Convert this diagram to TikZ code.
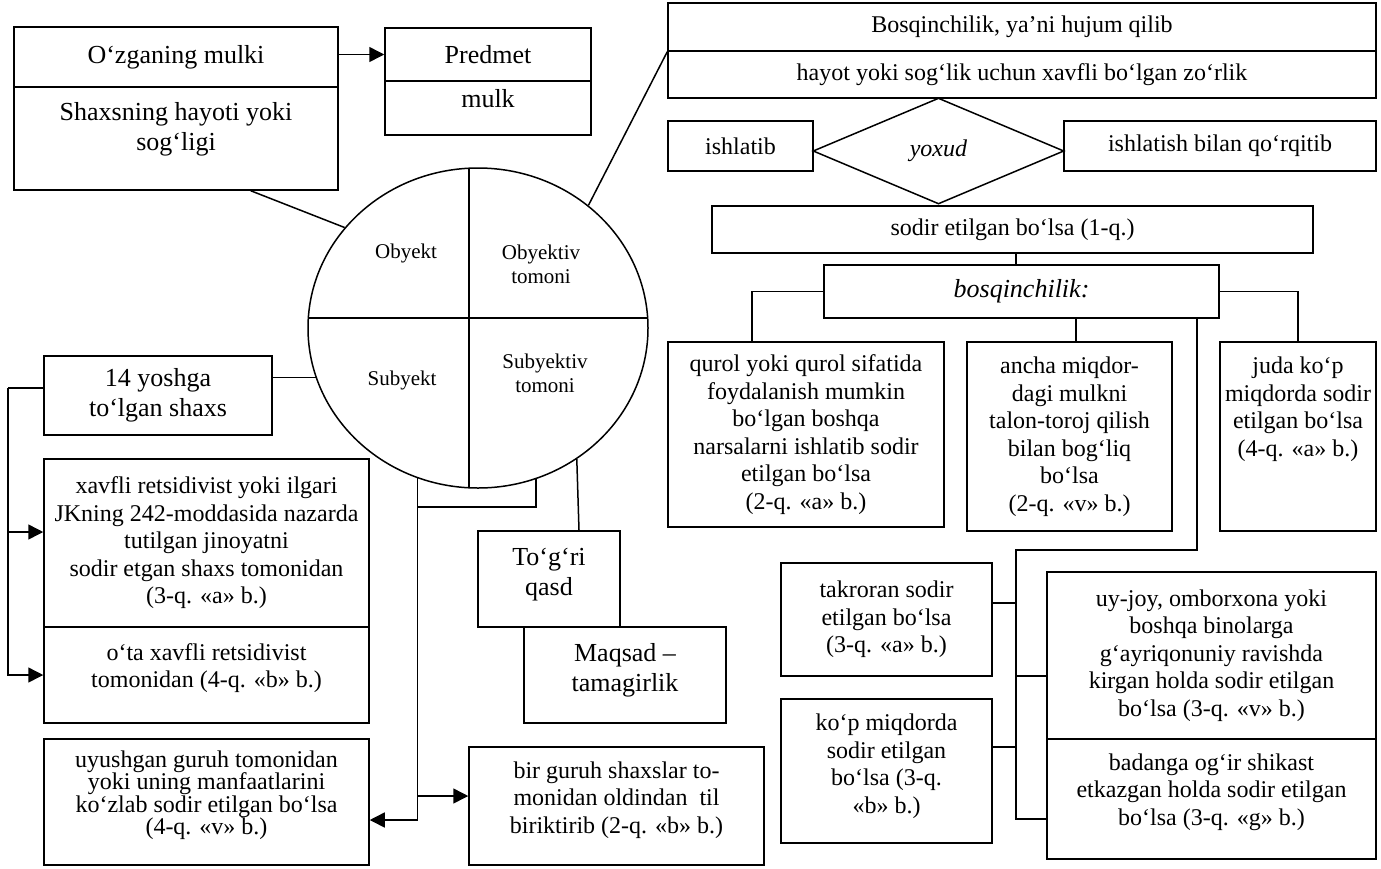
\documentclass[tikz,border=0pt]{standalone}
\usepackage{fontspec}
\setmainfont{Liberation Serif}
\usetikzlibrary{shapes.geometric,arrows.meta}

\newcommand{\fsnorm}{\fontsize{24}{27.5}\selectfont}
\newcommand{\fstight}{\fontsize{24}{22.5}\selectfont}
\newcommand{\fsbig}{\fontsize{26}{30}\selectfont}
\newcommand{\fssmall}{\fontsize{21}{24}\selectfont}

\begin{document}
\begin{tikzpicture}[
    x=1pt, y=-1pt,
    line width=1.5pt,
    box/.style={
        rectangle,
        draw=black,
        align=center,
        inner sep=0pt,
        font=\fsnorm
    },
    bigbox/.style={
        box,
        font=\fsbig
    },
    dim/.style 2 args={
        minimum width=#1pt,
        minimum height=#2pt
    },
    lift/.style={
        text depth=#1
    },
    oval/.style={
        ellipse,
        draw=black,
        inner sep=0pt,
        minimum width=340pt,
        minimum height=320pt,
        path picture={
            \draw ([xshift=-9pt]path picture bounding box.north)
                -- ([xshift=-9pt]path picture bounding box.south);
            \draw ([yshift=10pt]path picture bounding box.west)
                -- ([yshift=10pt]path picture bounding box.east);
        }
    },
    seglabel/.style={
        align=center,
        inner sep=0pt,
        font=\fssmall
    },
    rhomb/.style={
        diamond,
        draw=black,
        inner sep=0pt,
        minimum width=251pt,
        minimum height=106pt,
        font=\fsnorm
    },
    arrow/.style={
        -{Triangle[length=15pt,width=15pt]}
    }
]
\useasboundingbox (0,0) rectangle (1381,868);

% object side
\node[bigbox, dim={324}{60}] (ozgan) at (176,57) {O‘zganing mulki};
\node[bigbox, dim={324}{103}, lift=25pt] (hayoti) at (176,138.5) {Shaxsning hayoti yoki\\sog‘ligi};
\node[bigbox, dim={206}{53}] (predmet) at (488,54.5) {Predmet};
\node[bigbox, dim={206}{54}, lift=20pt] (mulk) at (488,108) {mulk};

% the four elements
\node[oval] (circ) at (478,328) {};
\node[seglabel] (obj)   at (406,253) {Obyekt};
\node[seglabel] (objt)  at (541,264) {Obyektiv\\tomoni};
\node[seglabel] (subj)  at (402,380) {Subyekt};
\node[seglabel] (subjt) at (545,373) {Subyektiv\\tomoni};

% objective side
\node[box, dim={708}{48}] (hujum)  at (1022,27)   {Bosqinchilik, ya’ni hujum qilib};
\node[box, dim={708}{47}] (zorlik) at (1022,74.5) {hayot yoki sog‘lik uchun xavfli bo‘lgan zo‘rlik};
\node[box, dim={145}{50}] (ishlatib) at (740.5,146) {ishlatib};
\node[rhomb] (yoxud) at (938.5,151) {\textit{yoxud}};
\node[box, dim={312}{50}] (qorqitib) at (1220,146) {ishlatish bilan qo‘rqitib};
\node[box, dim={601}{47}] (sodir) at (1012.5,229.5) {sodir etilgan bo‘lsa (1-q.)};
\node[bigbox, dim={395}{53}] (bosq) at (1021.5,291.5) {\textit{bosqinchilik:}};

\node[box, dim={276}{185}] (qurol) at (806,434.5)
{qurol yoki qurol sifatida\\foydalanish mumkin\\bo‘lgan boshqa\\narsalarni ishlatib sodir\\etilgan bo‘lsa\\(2-q. «a» b.)};
\node[box, dim={205}{189}] (ancha) at (1069.5,436.5)
{ancha miqdor-\\dagi mulkni\\talon-toroj qilish\\bilan bog‘liq\\bo‘lsa\\(2-q. «v» b.)};
\node[box, dim={156}{189}, lift=60pt] (juda) at (1298,436.5)
{juda ko‘p\\miqdorda sodir\\etilgan bo‘lsa\\(4-q. «a» b.)};

\node[box, dim={211}{113}] (takror) at (886.5,619.5)
{takroran sodir\\etilgan bo‘lsa\\(3-q. «a» b.)};
\node[box, dim={211}{144}, lift=15pt] (kopmiq) at (886.5,771)
{ko‘p miqdorda\\sodir etilgan\\bo‘lsa (3-q.\\«b» b.)};
\node[box, dim={329}{167}] (uyjoy) at (1211.5,655.5)
{uy-joy, omborxona yoki\\boshqa binolarga\\g‘ayriqonuniy ravishda\\kirgan holda sodir etilgan\\bo‘lsa (3-q. «v» b.)};
\node[box, dim={329}{120}, lift=19pt] (badan) at (1211.5,799)
{badanga og‘ir shikast\\etkazgan holda sodir etilgan\\bo‘lsa (3-q. «g» b.)};

% subject side
\node[bigbox, dim={228}{79}] (yosh) at (158,395.5) {14 yoshga\\to‘lgan shaxs};
\node[box, dim={325}{168}] (retsid) at (206.5,543)
{xavfli retsidivist yoki ilgari\\JKning 242-moddasida nazarda\\tutilgan jinoyatni\\ sodir etgan shaxs tomonidan\\(3-q. «a» b.)};
\node[box, dim={325}{96}, lift=19pt] (otaxavf) at (206.5,675)
{o‘ta xavfli retsidivist\\tomonidan (4-q. «b» b.)};
\node[box, dim={325}{126}, lift=19pt, font=\fstight] (uyushgan) at (206.5,802)
{uyushgan guruh tomonidan\\yoki uning manfaatlarini\\ko‘zlab sodir etilgan bo‘lsa\\(4-q. «v» b.)};
\node[box, dim={295}{118}, lift=17pt] (guruh) at (616.5,806)
{bir guruh shaxslar to-\\monidan oldindan\ \ til\\biriktirib (2-q. «b» b.)};

% subjective side
\node[bigbox, dim={142}{96}, lift=15pt] (togri) at (549,579) {To‘g‘ri\\qasd};
\node[bigbox, dim={202}{96}, lift=15pt] (maqsad) at (625,675) {Maqsad –\\tamagirlik};

\coordinate (lrail) at (8,388);
\coordinate (brk) at (417,507);
\coordinate (rjoin) at (1016,550);
\coordinate (retsIn) at ([yshift=11pt]retsid.west);
\coordinate (guruhIn) at ([yshift=10pt]guruh.west);
\coordinate (takOut) at ([yshift=16.5pt]takror.east);
\coordinate (kopOut) at ([yshift=24pt]kopmiq.east);
\coordinate (uyIn) at ([yshift=-20.5pt]uyjoy.west);
\coordinate (badIn) at ([yshift=-20pt]badan.west);

\draw[arrow] (ozgan.east |- predmet.west) -- (predmet.west);
\draw ([xshift=-88pt]hayoti.south east) -- (circ.143);
\draw (circ.48) -- (hujum.south west);

\draw (circ.197) -- (circ.197 -| yosh.east);
\draw (yosh.west |- lrail) -- (lrail);
\draw[arrow] (lrail) |- (otaxavf.west);
\draw[arrow] (retsIn -| lrail) -- (retsIn);

\draw (circ.291) |- (brk);
\draw[arrow] (circ.248) |- ([yshift=-18pt]uyushgan.east);
\draw[arrow] (guruhIn -| circ.248) -- (guruhIn);
\draw (circ.307) -- ([xshift=30pt]togri.north);

\draw ([xshift=-5.5pt]bosq.north |- sodir.south) -- ([xshift=-5.5pt]bosq.north);
\draw (bosq.west) -| ([xshift=-54pt]qurol.north);
\draw ([xshift=6.5pt]ancha.north |- bosq.south) -- ([xshift=6.5pt]ancha.north);
\draw (bosq.east) -| (juda.north);

\draw ([xshift=175.5pt]bosq.south) |- (rjoin) -- (rjoin |- badIn) -- (badIn);
\draw (takOut) -- (takOut -| rjoin);
\draw (uyIn) -- (uyIn -| rjoin);
\draw (kopOut) -- (kopOut -| rjoin);

\end{tikzpicture}
\end{document}
